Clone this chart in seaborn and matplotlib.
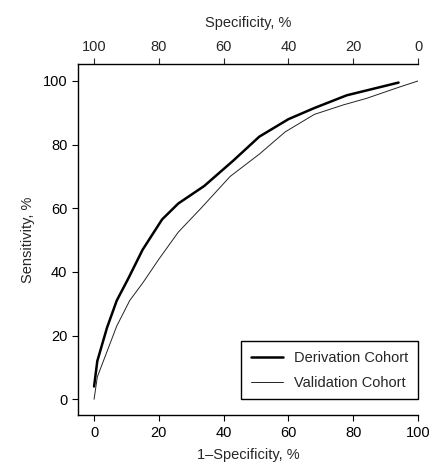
import pandas as pd
import matplotlib.pyplot as plt
import seaborn as sns

# ROC curve points (1-specificity %, sensitivity %)
deriv_fpr = [0, 1, 4, 7, 10.6, 15, 21, 26, 34, 43, 51, 60, 68, 78, 86, 94]
deriv_sens = [4, 12, 22.5, 31, 38, 47, 56.5, 61.5, 67, 75, 82.5, 88, 91.5, 95.5, 97.5, 99.5]
valid_fpr = [0, 1, 4, 7, 11, 15, 20, 26, 33, 42, 51, 59, 68, 77, 84, 94, 100]
valid_sens = [0, 7, 15, 23, 31, 36.5, 44, 52.5, 60, 70, 77, 84, 89.5, 92.5, 94.5, 98, 100]

cohorts = ['Derivation Cohort', 'Validation Cohort']
x_ticks = [0, 20, 40, 60, 80, 100]
y_ticks = [0, 20, 40, 60, 80, 100]

df = pd.concat([
    pd.DataFrame({'fpr': deriv_fpr, 'sens': deriv_sens, 'cohort': cohorts[0]}),
    pd.DataFrame({'fpr': valid_fpr, 'sens': valid_sens, 'cohort': cohorts[1]}),
])

sns.set_style('ticks')
plt.rcParams['font.family'] = ['Liberation Sans', 'DejaVu Sans']
plt.rcParams['font.size'] = 10.5

fig = plt.figure(figsize=(4.4, 4.68), dpi=100)
ax = fig.add_axes([0.177, 0.113, 0.773, 0.75])

sns.lineplot(data=df, x='fpr', y='sens', hue='cohort', size='cohort',
             sizes={cohorts[0]: 1.8, cohorts[1]: 0.7},
             palette={cohorts[0]: 'black', cohorts[1]: '#222222'},
             sort=False, estimator=None, ax=ax)

ax.set_xlim(-5, 100)
ax.set_ylim(-5, 105.3)
ax.set_xticks(x_ticks)
ax.set_yticks(y_ticks)
ax.set_xlabel('1\u2013Specificity, %', labelpad=6)
ax.set_ylabel('Sensitivity, %', labelpad=6)
ax.spines['right'].set_visible(False)
for s in ['left', 'top', 'bottom']:
    ax.spines[s].set_color('black')
    ax.spines[s].set_linewidth(1.0)
ax.tick_params(length=4, width=0.8, colors='black', labelsize=10.5)

top = ax.secondary_xaxis('top', functions=(lambda v: 100 - v, lambda v: 100 - v))
top.set_xticks(x_ticks)
top.set_xlabel('Specificity, %', labelpad=9)
top.tick_params(length=4, width=0.8, labelsize=10.5)
top.spines['top'].set_visible(False)

leg = ax.legend(loc='lower right', bbox_to_anchor=(1.0, 0.045), borderaxespad=0,
                frameon=True, fancybox=False, framealpha=1, edgecolor='black',
                fontsize=10.5, handlelength=2.2, labelspacing=0.75, borderpad=0.65)
leg.get_frame().set_linewidth(1.0)

fig.savefig('out.png', dpi=100)
